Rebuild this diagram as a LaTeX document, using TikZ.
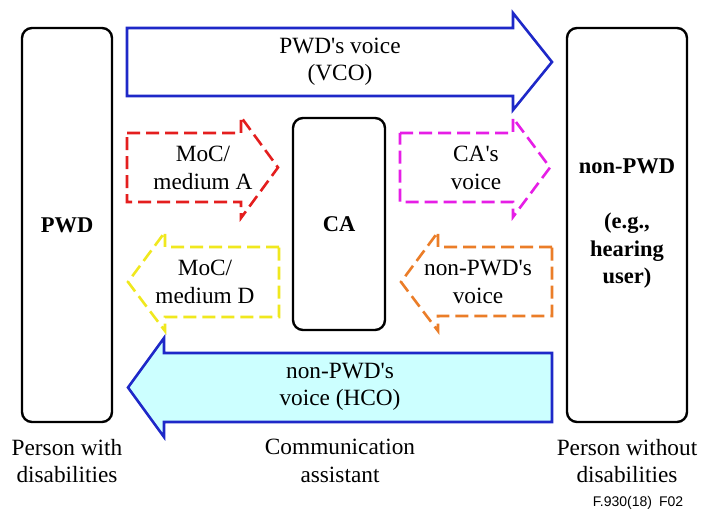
\documentclass[tikz,border=0pt]{standalone}
\usepackage{fontspec}
\setmainfont{Liberation Serif}
\newfontfamily\figsans{Liberation Sans}
\definecolor{vcoblue}{RGB}{30,40,200}
\definecolor{mocred}{RGB}{228,30,30}
\definecolor{camag}{RGB}{230,30,230}
\definecolor{mocyellow}{RGB}{240,232,30}
\definecolor{npworange}{RGB}{235,125,40}
\definecolor{hcofill}{RGB}{204,255,255}
% straight apostrophe
\newcommand{\ap}{\textquotesingle}
\begin{document}
\begin{tikzpicture}[x=1pt,y=-1pt,
  party/.style={draw=black,line width=2.4pt,rounded corners=10pt},
  solidarrow/.style={draw=vcoblue,line width=2.6pt,line join=miter},
  dasharrow/.style={line width=2.6pt,dash pattern=on 13pt off 6pt,line join=miter},
  lbl/.style={align=center,inner sep=0pt,font=\fontsize{23.3}{27.5}\selectfont},
  blbl/.style={lbl,font=\fontsize{22.5}{27.5}\selectfont\bfseries}]
\useasboundingbox (0,0) rectangle (701,510);
\fill[white] (0,0) rectangle (701,510);

% the three parties
\draw[party] (22,28) rectangle (112,422);
\draw[party] (293,118) rectangle (385,330);
\draw[party] (567,28) rectangle (687,422);
\node[blbl] (pwd) at (67,225) {PWD};
\node[blbl] (ca) at (339,224) {CA};
\node[blbl] (npwd) at (627,224) {non-PWD\\[27.5pt](e.g.,\\hearing\\user)};

% voice carry over, PWD to non-PWD
\draw[solidarrow] (127,28) -- (513,28) -- (513,13) -- (552,62) -- (513,110)
  -- (513,96) -- (127,96) -- cycle;
\node[lbl] (vco) at (340,62) {PWD\ap s voice\\(VCO)};

% PWD to CA
\draw[dasharrow,draw=mocred] (127,133) -- (241,133) -- (241,117) -- (278,167.5)
  -- (241,218) -- (241,202) -- (127,202) -- cycle;
\node[lbl] (moca) at (203,168) {MoC/\\medium A};

% CA to non-PWD
\draw[dasharrow,draw=camag] (400,133) -- (513,133) -- (513,118) -- (550,167.5)
  -- (513,217) -- (513,202) -- (400,202) -- cycle;
\node[lbl] (cavoice) at (476,168) {CA\ap s\\voice};

% CA to PWD
\draw[dasharrow,draw=mocyellow] (279,247) -- (165,247) -- (165,232) -- (128,282)
  -- (165,331) -- (165,317) -- (279,317) -- cycle;
\node[lbl] (mocd) at (205,282) {MoC/\\medium D};

% non-PWD to CA
\draw[dasharrow,draw=npworange] (552,247) -- (438,247) -- (438,232) -- (401,282)
  -- (438,331) -- (438,316) -- (552,316) -- cycle;
\node[lbl] (npwdvoice) at (478,282) {non-PWD\ap s\\voice};

% hearing carry over, non-PWD to PWD
\draw[solidarrow,fill=hcofill] (552,353) -- (164,353) -- (164,338) -- (128,387.5)
  -- (164,437) -- (164,422) -- (552,422) -- cycle;
\node[lbl] (hco) at (340,387) {non-PWD\ap s\\voice (HCO)};

% captions
\node[lbl] (cappwd) at (67,461) {Person with\\disabilities};
\node[lbl] (capca) at (340,461) {Communication\\assistant};
\node[lbl] (capnpwd) at (627,461) {Person without\\disabilities};
\node[inner sep=0pt,font=\figsans\fontsize{14}{16}\selectfont] (fig) at (638,503) {F.930(18)\enspace F02};
\end{tikzpicture}
\end{document}
